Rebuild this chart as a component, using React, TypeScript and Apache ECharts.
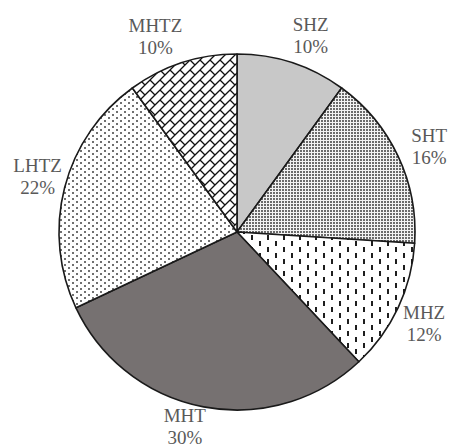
import React, { useEffect, useRef } from 'react';
import * as echarts from 'echarts';

const categories = ['SHZ', 'SHT', 'MHZ', 'MHT', 'LHTZ', 'MHTZ'];
const values = [10, 16, 12, 30, 22, 10];

const CX = 237;
const CY = 232;
const R = 178;
const LABEL_R = 209;
// small pixel nudges of each label from its mid-angle anchor point
const labelNudge: [number, number][] = [
  [9, 2],
  [3, 3],
  [-2, 3],
  [-13, -11],
  [3, -4],
  [-17, 3],
];

function makeTile(w: number, h: number, draw: (ctx: CanvasRenderingContext2D) => void) {
  const c = document.createElement('canvas');
  c.width = w;
  c.height = h;
  const ctx = c.getContext('2d') as CanvasRenderingContext2D;
  draw(ctx);
  return { image: c, repeat: 'repeat' } as any;
}

function fills() {
  const shz = '#c8c8c8';
  const sht = makeTile(3, 3, (ctx) => {
    ctx.fillStyle = '#f2f2f2';
    ctx.fillRect(0, 0, 3, 3);
    ctx.fillStyle = '#6a6a6a';
    ctx.fillRect(0, 0, 2, 2);
  });
  const mhz = makeTile(16, 12, (ctx) => {
    ctx.fillStyle = '#ffffff';
    ctx.fillRect(0, 0, 16, 12);
    ctx.fillStyle = '#1e1e1e';
    ctx.fillRect(3, 1, 2, 5);
    ctx.fillRect(11, 7, 2, 5);
  });
  const mht = '#767171';
  const lhtz = makeTile(8, 6, (ctx) => {
    ctx.fillStyle = '#ffffff';
    ctx.fillRect(0, 0, 8, 6);
    ctx.fillStyle = '#707070';
    ctx.fillRect(0, 0, 2, 2);
    ctx.fillRect(4, 3, 2, 2);
  });
  const T = 10;
  const mhtz = makeTile(T, T, (ctx) => {
    ctx.fillStyle = '#ffffff';
    ctx.fillRect(0, 0, T, T);
    ctx.strokeStyle = '#111111';
    ctx.lineWidth = 1.3;
    for (const dx of [-T, 0, T]) {
      for (const dy of [-T, 0, T]) {
        ctx.beginPath();
        ctx.moveTo(dx + 0, dy + T);
        ctx.lineTo(dx + T, dy + 0);
        ctx.moveTo(dx + 0, dy + 0);
        ctx.lineTo(dx + T / 2, dy + T / 2);
        ctx.stroke();
      }
    }
  });
  return [shz, sht, mhz, mht, lhtz, mhtz];
}

export default function App() {
  const ref = useRef<HTMLDivElement>(null);
  useEffect(() => {
    if (!ref.current) return;
    const chart = echarts.init(ref.current, null, { renderer: 'svg' });
    const colors = fills();
    const total = values.reduce((a, b) => a + b, 0);
    const mids: number[] = [];
    let acc = 0;
    values.forEach((v) => {
      mids.push(((acc + v / 2) / total) * Math.PI * 2);
      acc += v;
    });
    chart.setOption({
      animation: false,
      series: [
        {
          type: 'pie',
          center: [CX, CY],
          radius: R,
          startAngle: 90,
          clockwise: true,
          avoidLabelOverlap: false,
          data: categories.map((name, i) => ({
            name,
            value: values[i],
            itemStyle: { color: colors[i] },
          })),
          itemStyle: { borderColor: '#1a1a1a', borderWidth: 1.6 },
          label: {
            show: true,
            position: 'inside',
            formatter: '{b}\n{c}%',
            fontFamily: '"Liberation Serif", "Times New Roman", serif',
            fontSize: 19,
            lineHeight: 22,
            color: '#595959',
            overflow: 'none',
          },
          labelLine: { show: false },
          emphasis: { disabled: true },
          labelLayout: (params: any) => {
            const i = params.dataIndex;
            const a = mids[i];
            return {
              x: CX + LABEL_R * Math.sin(a) + labelNudge[i][0],
              y: CY - LABEL_R * Math.cos(a) + labelNudge[i][1],
              align: 'center',
              verticalAlign: 'middle',
            };
          },
        },
      ],
    });
    return () => chart.dispose();
  }, []);
  return (
    <div
      ref={ref}
      style={{ position: 'fixed', left: 0, top: 0, width: 450, height: 447, background: '#ffffff' }}
    />
  );
}
